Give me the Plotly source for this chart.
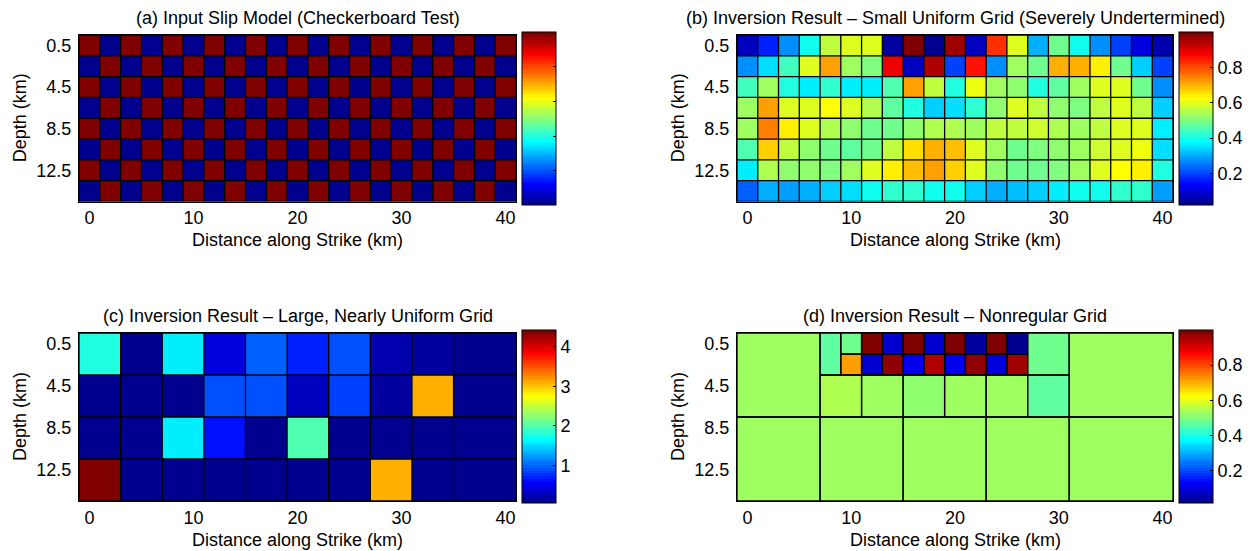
import numpy as np
import plotly.graph_objects as go

# ------------------------------------------------------------------
# Slip models on the fault plane (distance along strike x depth, km)
# ------------------------------------------------------------------

# (a) input checkerboard: 2 km patches, 21 along strike x 8 down dip
a_x_edges = [-1, 1, 3, 5, 7, 9, 11, 13, 15, 17, 19, 21, 23, 25, 27, 29, 31, 33, 35, 37, 39, 41]
a_y_edges = [-0.5, 1.5, 3.5, 5.5, 7.5, 9.5, 11.5, 13.5, 15.5]
a_slip = [
    [1, 0, 1, 0, 1, 0, 1, 0, 1, 0, 1, 0, 1, 0, 1, 0, 1, 0, 1, 0, 1],
    [0, 1, 0, 1, 0, 1, 0, 1, 0, 1, 0, 1, 0, 1, 0, 1, 0, 1, 0, 1, 0],
    [1, 0, 1, 0, 1, 0, 1, 0, 1, 0, 1, 0, 1, 0, 1, 0, 1, 0, 1, 0, 1],
    [0, 1, 0, 1, 0, 1, 0, 1, 0, 1, 0, 1, 0, 1, 0, 1, 0, 1, 0, 1, 0],
    [1, 0, 1, 0, 1, 0, 1, 0, 1, 0, 1, 0, 1, 0, 1, 0, 1, 0, 1, 0, 1],
    [0, 1, 0, 1, 0, 1, 0, 1, 0, 1, 0, 1, 0, 1, 0, 1, 0, 1, 0, 1, 0],
    [1, 0, 1, 0, 1, 0, 1, 0, 1, 0, 1, 0, 1, 0, 1, 0, 1, 0, 1, 0, 1],
    [0, 1, 0, 1, 0, 1, 0, 1, 0, 1, 0, 1, 0, 1, 0, 1, 0, 1, 0, 1, 0],
]

# (b) inversion on the same small uniform grid
b_x_edges = a_x_edges
b_y_edges = a_y_edges
b_slip = [
    [0.07, 0.17, 0.27, 0.40, 0.56, 0.59, 0.60, 0.05, 1.00, 0.02, 0.96, 0.08, 0.83, 0.59, 0.30, 0.48, 0.40, 0.27, 0.20, 0.11, 0.06],
    [0.27, 0.35, 0.44, 0.60, 0.71, 0.54, 0.50, 0.89, 0.08, 0.94, 0.20, 0.85, 0.28, 0.54, 0.48, 0.70, 0.70, 0.645, 0.48, 0.33, 0.20],
    [0.44, 0.54, 0.41, 0.36, 0.42, 0.37, 0.36, 0.46, 0.72, 0.56, 0.41, 0.615, 0.53, 0.51, 0.41, 0.47, 0.54, 0.60, 0.59, 0.49, 0.28],
    [0.54, 0.72, 0.60, 0.59, 0.62, 0.60, 0.55, 0.47, 0.41, 0.33, 0.35, 0.43, 0.51, 0.60, 0.57, 0.51, 0.50, 0.57, 0.59, 0.57, 0.34],
    [0.53, 0.75, 0.64, 0.59, 0.55, 0.52, 0.48, 0.48, 0.51, 0.55, 0.55, 0.53, 0.56, 0.57, 0.58, 0.55, 0.54, 0.57, 0.60, 0.60, 0.36],
    [0.46, 0.67, 0.56, 0.52, 0.49, 0.47, 0.48, 0.56, 0.66, 0.70, 0.69, 0.60, 0.53, 0.49, 0.50, 0.52, 0.53, 0.58, 0.60, 0.61, 0.35],
    [0.37, 0.55, 0.52, 0.51, 0.50, 0.54, 0.59, 0.64, 0.69, 0.71, 0.67, 0.60, 0.51, 0.48, 0.49, 0.50, 0.54, 0.59, 0.62, 0.64, 0.41],
    [0.22, 0.30, 0.29, 0.31, 0.33, 0.35, 0.39, 0.42, 0.42, 0.40, 0.39, 0.34, 0.31, 0.32, 0.33, 0.37, 0.39, 0.40, 0.42, 0.43, 0.29],
]

# (c) inversion on a large, nearly uniform grid (4 km patches, last one 6 km)
c_x_edges = [-1, 3, 7, 11, 15, 19, 23, 27, 31, 35, 41]
c_y_edges = [-0.5, 3.5, 7.5, 11.5, 15.5]
c_slip = [
    [1.78, 0.10, 1.56, 0.44, 0.98, 0.72, 0.88, 0.23, 0.14, 0.10],
    [0.08, 0.08, 0.10, 0.92, 0.88, 0.31, 0.84, 0.12, 3.06, 0.08],
    [0.07, 0.07, 1.60, 0.60, 0.10, 2.03, 0.08, 0.08, 0.08, 0.08],
    [4.42, 0.05, 0.07, 0.07, 0.07, 0.07, 0.07, 3.06, 0.07, 0.07],
]

# (d) inversion on a nonregular grid: one patch per entry
d_x0 = [-1, -1, 7, 9, 9, 11, 11, 13, 13, 15, 15, 17, 17, 19, 19, 21, 21, 23, 23, 25, 25, 27, 31, 7, 11, 15, 19, 23, 27, 7, 15, 23, 31]
d_x1 = [7, 7, 9, 11, 11, 13, 13, 15, 15, 17, 17, 19, 19, 21, 21, 23, 23, 25, 25, 27, 27, 31, 41, 11, 15, 19, 23, 27, 31, 15, 23, 31, 41]
d_y0 = [-0.5, 7.5, -0.5, -0.5, 1.5, -0.5, 1.5, -0.5, 1.5, -0.5, 1.5, -0.5, 1.5, -0.5, 1.5, -0.5, 1.5, -0.5, 1.5, -0.5, 1.5, -0.5, -0.5, 3.5, 3.5, 3.5, 3.5, 3.5, 3.5, 7.5, 7.5, 7.5, 7.5]
d_y1 = [7.5, 15.5, 3.5, 1.5, 3.5, 1.5, 3.5, 1.5, 3.5, 1.5, 3.5, 1.5, 3.5, 1.5, 3.5, 1.5, 3.5, 1.5, 3.5, 1.5, 3.5, 3.5, 7.5, 7.5, 7.5, 7.5, 7.5, 7.5, 7.5, 15.5, 15.5, 15.5, 15.5]
d_slip = [0.53, 0.53, 0.47, 0.48, 0.71, 1.00, 0.085, 0.08, 0.97, 0.99, 0.11, 0.085, 0.94, 0.99, 0.11, 0.04, 0.97, 0.985, 0.10, 0.015, 0.96, 0.48, 0.53, 0.54, 0.53, 0.52, 0.535, 0.53, 0.47, 0.53, 0.53, 0.53, 0.53]

x_ticks = [0, 10, 20, 30, 40]
y_ticks = [0.5, 4.5, 8.5, 12.5]
cb_ticks_unit = [0.2, 0.4, 0.6, 0.8]
cb_ticks_c = [1, 2, 3, 4]

titles = [
    "(a) Input Slip Model (Checkerboard Test)",
    "(b) Inversion Result \u2013 Small Uniform Grid (Severely Undertermined)",
    "(c) Inversion Result \u2013 Large, Nearly Uniform Grid",
    "(d) Inversion Result \u2013 Nonregular Grid",
]
x_label = "Distance along Strike (km)"
y_label = "Depth (km)"

# ------------------------------------------------------------------
# 64-level jet colormap, used as a stepped colour scale
# ------------------------------------------------------------------
def jet(m=64):
    n = int(np.ceil(m / 4))
    u = np.concatenate([np.arange(1, n + 1) / n, np.ones(n - 1), np.arange(n, 0, -1) / n])
    g = int(np.ceil(n / 2)) - (1 if m % 4 == 1 else 0) + np.arange(1, len(u) + 1)
    r = g + n
    b = g - n
    J = np.zeros((m, 3))
    J[r[r <= m] - 1, 0] = u[r <= m]
    J[g[g <= m] - 1, 1] = u[g <= m]
    J[b[b >= 1] - 1, 2] = u[b >= 1]
    return J


jet64 = jet(64)
jet_scale = []
for k, (rr, gg, bb) in enumerate(jet64):
    col = "rgb(%d,%d,%d)" % (round(rr * 255), round(gg * 255), round(bb * 255))
    jet_scale.append([k / 64, col])
    jet_scale.append([(k + 1) / 64, col])

# ------------------------------------------------------------------
# Layout geometry (figure is 1251 x 551 px)
# ------------------------------------------------------------------
W, H = 1251, 551
FONT = "Liberation Sans, Arial, Helvetica, sans-serif"
FS = 18

col_px = [(79, 516), (737, 1173)]
row_px = [(35, 201.5), (333, 501)]
cb_x_px = [522, 1179]
cb_y_px = [(32.5, 205), (330, 503)]
CB_W = 34


def px_x(v):
    return v / W


def px_y(v):
    return 1 - v / H


fig = go.Figure()


def outline_uniform(xe, ye):
    xs, ys = [], []
    for xv in xe:
        xs += [xv, xv, None]
        ys += [ye[0], ye[-1], None]
    for yv in ye:
        xs += [xe[0], xe[-1], None]
        ys += [yv, yv, None]
    return xs, ys


def outline_cells(x0, x1, y0, y1):
    xs, ys = [], []
    for a, b, c, d in zip(x0, x1, y0, y1):
        xs += [a, b, b, a, a, None]
        ys += [c, c, d, d, c, None]
    return xs, ys


# fine grid for the nonregular model
d_xe = sorted(set(d_x0) | set(d_x1))
d_ye = sorted(set(d_y0) | set(d_y1))
d_grid = []
for j in range(len(d_ye) - 1):
    yc = 0.5 * (d_ye[j] + d_ye[j + 1])
    row = []
    for i in range(len(d_xe) - 1):
        xc = 0.5 * (d_xe[i] + d_xe[i + 1])
        val = None
        for a, b, c, d, s in zip(d_x0, d_x1, d_y0, d_y1, d_slip):
            if a <= xc <= b and c <= yc <= d:
                val = s
                break
        row.append(val)
    d_grid.append(row)

panels = [
    (a_x_edges, a_y_edges, a_slip, outline_uniform(a_x_edges, a_y_edges)),
    (b_x_edges, b_y_edges, b_slip, outline_uniform(b_x_edges, b_y_edges)),
    (c_x_edges, c_y_edges, c_slip, outline_uniform(c_x_edges, c_y_edges)),
    (d_xe, d_ye, d_grid, outline_cells(d_x0, d_x1, d_y0, d_y1)),
]

cb_tick_sets = [
    (cb_ticks_unit, False),
    (cb_ticks_unit, True),
    (cb_ticks_c, True),
    (cb_ticks_unit, True),
]

annotations = []
for k, (xe, ye, z, (ox, oy)) in enumerate(panels):
    r, c = divmod(k, 2)
    sfx = "" if k == 0 else str(k + 1)
    xa, ya = "x" + sfx, "y" + sfx
    ca = "coloraxis" + sfx

    fig.add_trace(go.Heatmap(x=xe, y=ye, z=z, coloraxis=ca, xaxis=xa, yaxis=ya,
                             hoverinfo="skip"))
    fig.add_trace(go.Scatter(x=ox, y=oy, mode="lines", xaxis=xa, yaxis=ya,
                             line=dict(color="black", width=1.3),
                             hoverinfo="skip", showlegend=False))

    x0p, x1p = col_px[c]
    y0p, y1p = row_px[r]
    common = dict(showline=True, linecolor="black", linewidth=1, mirror=True,
                  ticks="", showgrid=False, zeroline=False,
                  tickfont=dict(family=FONT, size=FS, color="black"))
    fig.layout["xaxis" + sfx] = dict(
        domain=[px_x(x0p), px_x(x1p)], anchor=ya, range=[xe[0], xe[-1]],
        tickvals=x_ticks, ticklabelstandoff=0, **common)
    fig.layout["yaxis" + sfx] = dict(
        domain=[px_y(y1p), px_y(y0p)], anchor=xa, range=[ye[-1], ye[0]],
        tickvals=y_ticks, ticklabelstandoff=3, **common)

    flat = [v for row in z for v in row if v is not None]
    ticks, show_lbl = cb_tick_sets[k]
    cy0, cy1 = cb_y_px[r]
    fig.layout[ca] = dict(
        colorscale=jet_scale, cmin=min(flat), cmax=max(flat),
        colorbar=dict(
            x=px_x(cb_x_px[c]), xanchor="left", xpad=0, ypad=0,
            y=px_y(0.5 * (cy0 + cy1)), yanchor="middle",
            len=(cy1 - cy0) / H, lenmode="fraction",
            thickness=CB_W, thicknessmode="pixels",
            outlinecolor="black", outlinewidth=1,
            tickvals=ticks, ticks="inside", ticklen=3, tickcolor="black",
            showticklabels=show_lbl,
            tickfont=dict(family=FONT, size=FS, color="black"),
        ),
    )

    xc = px_x(0.5 * (x0p + x1p))
    annotations.append(dict(text=titles[k], x=xc, y=px_y(y0p - 17.5), xref="paper", yref="paper",
                            xanchor="center", yanchor="middle", showarrow=False,
                            font=dict(family=FONT, size=FS, color="black")))
    annotations.append(dict(text=x_label, x=xc, y=px_y(y1p + 38.5), xref="paper", yref="paper",
                            xanchor="center", yanchor="middle", showarrow=False,
                            font=dict(family=FONT, size=FS, color="black")))
    annotations.append(dict(text=y_label, x=px_x(x0p - 59), y=px_y(0.5 * (y0p + y1p)),
                            xref="paper", yref="paper", textangle=-90,
                            xanchor="center", yanchor="middle", showarrow=False,
                            font=dict(family=FONT, size=FS, color="black")))

fig.update_layout(
    width=W, height=H, autosize=False,
    margin=dict(l=0, r=0, t=0, b=0),
    paper_bgcolor="white", plot_bgcolor="white",
    showlegend=False,
    annotations=annotations,
    font=dict(family=FONT, size=FS, color="black"),
)

fig.write_html("out.html")
